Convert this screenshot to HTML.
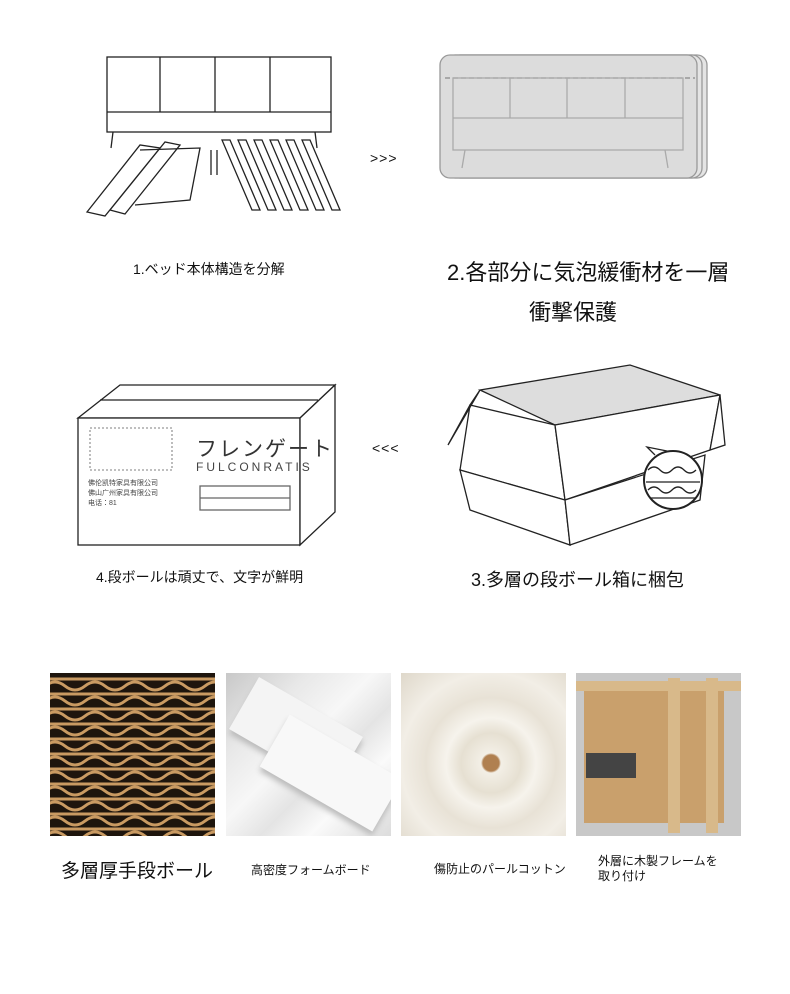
<!DOCTYPE html>
<html><head><meta charset="utf-8"><style>
body{margin:0;width:790px;height:994px;background:#fff;position:relative;overflow:hidden;font-family:"Liberation Sans","Noto Sans CJK JP",sans-serif;color:#111}
.t{position:absolute;white-space:nowrap}
.p{position:absolute;top:673px;width:165px;height:163px;overflow:hidden}
</style></head><body>
<svg width="790" height="994" style="position:absolute;left:0;top:0" fill="none" stroke="#222" stroke-width="1.3">
<rect x="107" y="57" width="224" height="75" fill="#fff"/>
<line x1="160" y1="57" x2="160" y2="112"/><line x1="215" y1="57" x2="215" y2="112"/><line x1="270" y1="57" x2="270" y2="112"/>
<line x1="107" y1="112" x2="331" y2="112"/>
<line x1="113" y1="132" x2="111" y2="148"/><line x1="315" y1="132" x2="317" y2="148"/>
<path d="M87 212 L140 145 L160 148 L105 216 Z M110 210 L165 142 L180 145 L125 214Z"/>
<path d="M140 150 L200 148 L190 200 L135 205"/>
<line x1="211" y1="150" x2="211" y2="175"/><line x1="217" y1="150" x2="217" y2="175"/>
<g>
<path d="M222 140 l30 70 h8 l-30 -70z"/><path d="M238 140 l30 70 h8 l-30 -70z"/><path d="M254 140 l30 70 h8 l-30 -70z"/><path d="M270 140 l30 70 h8 l-30 -70z"/><path d="M286 140 l30 70 h8 l-30 -70z"/><path d="M302 140 l30 70 h8 l-30 -70z"/>
</g>
<rect x="450" y="55" width="257" height="123" rx="10" fill="#e4e4e4" stroke="#999"/>
<rect x="445" y="55" width="257" height="123" rx="10" fill="#e4e4e4" stroke="#999"/>
<rect x="440" y="55" width="257" height="123" rx="10" fill="#dcdcdc" stroke="#999"/>
<line x1="445" y1="78" x2="695" y2="78" stroke="#888" stroke-dasharray="5 3"/>
<rect x="453" y="78" width="230" height="72" stroke="#aaa"/>
<line x1="510" y1="78" x2="510" y2="118" stroke="#aaa"/><line x1="567" y1="78" x2="567" y2="118" stroke="#aaa"/><line x1="625" y1="78" x2="625" y2="118" stroke="#aaa"/>
<line x1="453" y1="118" x2="683" y2="118" stroke="#aaa"/>
<line x1="465" y1="150" x2="462" y2="168" stroke="#aaa"/><line x1="665" y1="150" x2="668" y2="168" stroke="#aaa"/>
<path d="M78 418 L120 385 L335 385 L300 418 Z" fill="#fff"/>
<rect x="78" y="418" width="222" height="127" fill="#fff"/>
<path d="M300 418 L335 385 L335 512 L300 545Z" fill="#fff"/>
<line x1="100" y1="400" x2="318" y2="400"/>
<rect x="90" y="428" width="82" height="42" stroke="#999" stroke-dasharray="2 2"/>
<rect x="200" y="486" width="90" height="24" stroke="#666"/>
<line x1="200" y1="498" x2="290" y2="498" stroke="#666"/>
<path d="M480 390 L630 365 L720 395 L555 425Z" fill="#ddd"/>
<path d="M470 405 L555 425 L565 500 L460 470Z" fill="#fff"/>
<path d="M555 425 L720 395 L710 450 L565 500Z" fill="#fff"/>
<path d="M460 470 L565 500 L570 545 L470 510Z" fill="#fff"/>
<path d="M565 500 L705 455 L700 500 L570 545Z" fill="#fff"/>
<path d="M480 390 L448 445 L470 405Z" fill="#fff"/>
<path d="M720 395 L725 445 L710 450Z" fill="#fff"/>
<circle cx="673" cy="480" r="29" fill="#fff" stroke-width="2"/>
<path d="M648 470 q6-6 12 0 t12 0 t12 0 t12 0 M646 482 h54 M648 490 q6-6 12 0 t12 0 t12 0 t12 0 M650 498 h46"/>
<path d="M655 455 l-8-8 l20 4"/>
</svg>
<div class="t" style="left:370px;top:150px;font-size:14px;letter-spacing:1px">&gt;&gt;&gt;</div>
<div class="t" style="left:372px;top:440px;font-size:14px;letter-spacing:1px">&lt;&lt;&lt;</div>
<div class="t" style="left:196px;top:433px;font-size:21px;color:#333;letter-spacing:2px">フレンゲート</div>
<div class="t" style="left:196px;top:460px;font-size:12px;color:#444;letter-spacing:3px">FULCONRATIS</div>
<div class="t" style="left:88px;top:478px;font-size:7px;color:#444">佛伦凯特家具有限公司<br>佛山广州家具有限公司<br>电话：81</div>
<div class="t" style="left:133px;top:259px;font-size:14px">1.ベッド本体構造を分解</div>
<div class="t" style="left:447px;top:255px;font-size:22px">2.各部分に気泡緩衝材を一層</div>
<div class="t" style="left:529px;top:295px;font-size:22px">衝撃保護</div>
<div class="t" style="left:96px;top:567px;font-size:14px">4.段ボールは頑丈で、文字が鮮明</div>
<div class="t" style="left:471px;top:566px;font-size:18px">3.多層の段ボール箱に梱包</div>
<div class="p" style="left:50px;background:#1e150d">
<svg width="165" height="163" fill="none" stroke="#c99a62" stroke-width="3">
<g id="w"><path d="M-5 6 h175"/><path d="M-5 13 q10 -8 20 0 t20 0 t20 0 t20 0 t20 0 t20 0 t20 0 t20 0 t20 0"/></g>
<use href="#w" y="15"/><use href="#w" y="30"/><use href="#w" y="45"/><use href="#w" y="60"/><use href="#w" y="75"/><use href="#w" y="90"/><use href="#w" y="105"/><use href="#w" y="120"/><use href="#w" y="135"/><use href="#w" y="150"/>
</svg></div>
<div class="p" style="left:226px;background:linear-gradient(135deg,#c8c8c8 0%,#e8e8e8 25%,#f7f7f7 45%,#e4e4e4 60%,#fafafa 75%,#dcdcdc 100%)">
<div style="position:absolute;left:10px;top:30px;width:120px;height:60px;background:#f4f4f4;transform:rotate(30deg);box-shadow:2px 4px 6px #bbb"></div>
<div style="position:absolute;left:40px;top:70px;width:130px;height:60px;background:#f8f8f8;transform:rotate(30deg);box-shadow:2px 4px 6px #bbb"></div>
</div>
<div class="p" style="left:401px;background:radial-gradient(circle at 90px 90px,#b08050 0 8px,#f3efe6 10px,#e6e0d2 30px,#f6f3ec 45px,#e8e2d6 65px,#f2eee6 90px,#ddd6c8 130px)"></div>
<div class="p" style="left:576px;background:#c8c8c8"><div style="position:absolute;left:8px;top:15px;width:140px;height:135px;background:#c9a06c"></div><div style="position:absolute;left:10px;top:80px;width:50px;height:25px;background:#444"></div><div style="position:absolute;left:0;top:8px;width:165px;height:10px;background:#d8b98a"></div><div style="position:absolute;left:92px;top:5px;width:12px;height:155px;background:#d8b98a"></div><div style="position:absolute;left:130px;top:5px;width:12px;height:155px;background:#d8b98a"></div></div>
<div class="t" style="left:61px;top:856px;font-size:19px">多層厚手段ボール</div>
<div class="t" style="left:251px;top:861px;font-size:12px">高密度フォームボード</div>
<div class="t" style="left:434px;top:860px;font-size:12px">傷防止のパールコットン</div>
<div class="t" style="left:598px;top:854px;font-size:12px;line-height:15px">外層に木製フレームを<br>取り付け</div>
</body></html>
